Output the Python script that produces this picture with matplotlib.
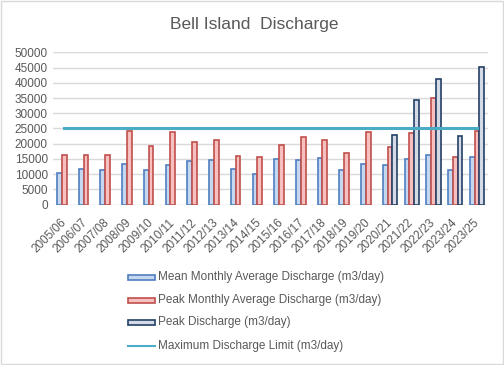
import numpy as np
import matplotlib
matplotlib.use('Agg')
import matplotlib.pyplot as plt
from matplotlib.patches import Rectangle
from matplotlib.lines import Line2D

plt.rcParams['font.family'] = ['Liberation Sans', 'DejaVu Sans']

# data
years = ['2005/06', '2006/07', '2007/08', '2008/09', '2009/10', '2010/11',
         '2011/12', '2012/13', '2013/14', '2014/15', '2015/16', '2016/17',
         '2017/18', '2018/19', '2019/20', '2020/21', '2021/22', '2022/23',
         '2023/24', '2023/25']
mean_monthly = [10300, 11700, 11500, 13300, 11500, 13100, 14300, 14500, 11800,
                10100, 15000, 14500, 15400, 11300, 13400, 13000, 15100, 16400,
                11500, 15600]
peak_monthly = [16400, 16400, 16400, 24300, 19400, 24000, 20600, 21200, 16100,
                15500, 19600, 22200, 21200, 16900, 23900, 18800, 23400, 34900,
                15600, 24300]
# peak discharge only recorded from 2020/21
peak_discharge = [None] * 15 + [22800, 34300, 41400, 22600, 45300]
max_limit = [25000] * len(years)

labels = ['Mean Monthly Average Discharge (m3/day)',
          'Peak Monthly Average Discharge (m3/day)',
          'Peak Discharge (m3/day)',
          'Maximum Discharge Limit (m3/day)']

fill_cols = ['#c5d8f0', '#f7bfbe', '#d4dbe7']
edge_cols = ['#4f7fc0', '#c0504d', '#243f66']
line_col = '#4bacc6'
txt_col = '#595959'
grid_col = '#d9d9d9'

fig = plt.figure(figsize=(5.04, 3.65), dpi=100)
ax = fig.add_axes([0.1058, 0.4392, 0.862, 0.4175])

x = np.arange(len(years))
w = 0.22
series = [mean_monthly, peak_monthly, peak_discharge]
for i, vals in enumerate(series):
    xs = [xx + (i - 1) * w for xx, v in zip(x, vals) if v is not None]
    hs = [v for v in vals if v is not None]
    ax.bar(xs, hs, width=w, color=fill_cols[i], edgecolor=edge_cols[i],
           linewidth=1.2, zorder=3)

ax.plot(x, max_limit, color=line_col, lw=2.2, zorder=4)

ax.set_xlim(-0.5, len(years) - 0.5)
ax.set_ylim(0, 50000)
ax.set_yticks(np.arange(0, 50001, 5000))
ax.yaxis.grid(True, color=grid_col, lw=1, zorder=0)
for s in ax.spines.values():
    s.set_visible(False)
ax.tick_params(axis='both', length=0, labelsize=8.5, colors=txt_col, pad=4)
ax.set_xticks(x)
ax.set_xticklabels(years, rotation=45, ha='right', va='center',
                   rotation_mode='anchor')
for t in ax.get_xticklabels():
    t.set_y(-0.07)

fig.text(0.505, 0.932, 'Bell Island  Discharge', ha='center', va='center',
         fontsize=12.5, color=txt_col)

# legend drawn as a column below the plot
rows_y = [277, 300, 322.5, 345.5]
for i, lab in enumerate(labels):
    yy = 1 - rows_y[i] / 365
    if i < 3:
        fig.patches.append(Rectangle((128 / 504, yy - 2.5 / 365), 27 / 504, 5 / 365,
                                     transform=fig.transFigure,
                                     facecolor=fill_cols[i], edgecolor=edge_cols[i],
                                     lw=1.2))
    else:
        fig.lines.append(Line2D([128 / 504, 155 / 504], [yy, yy],
                                transform=fig.transFigure, color=line_col, lw=1.5))
    fig.text(158 / 504, yy, lab, ha='left', va='center', fontsize=8.5,
             color=txt_col)

# outer chart border
fig.patches.append(Rectangle((0.001, 0.0015), 0.997, 0.996, transform=fig.transFigure,
                             fill=False, edgecolor=grid_col, lw=1))

fig.savefig('out.png', dpi=100)
